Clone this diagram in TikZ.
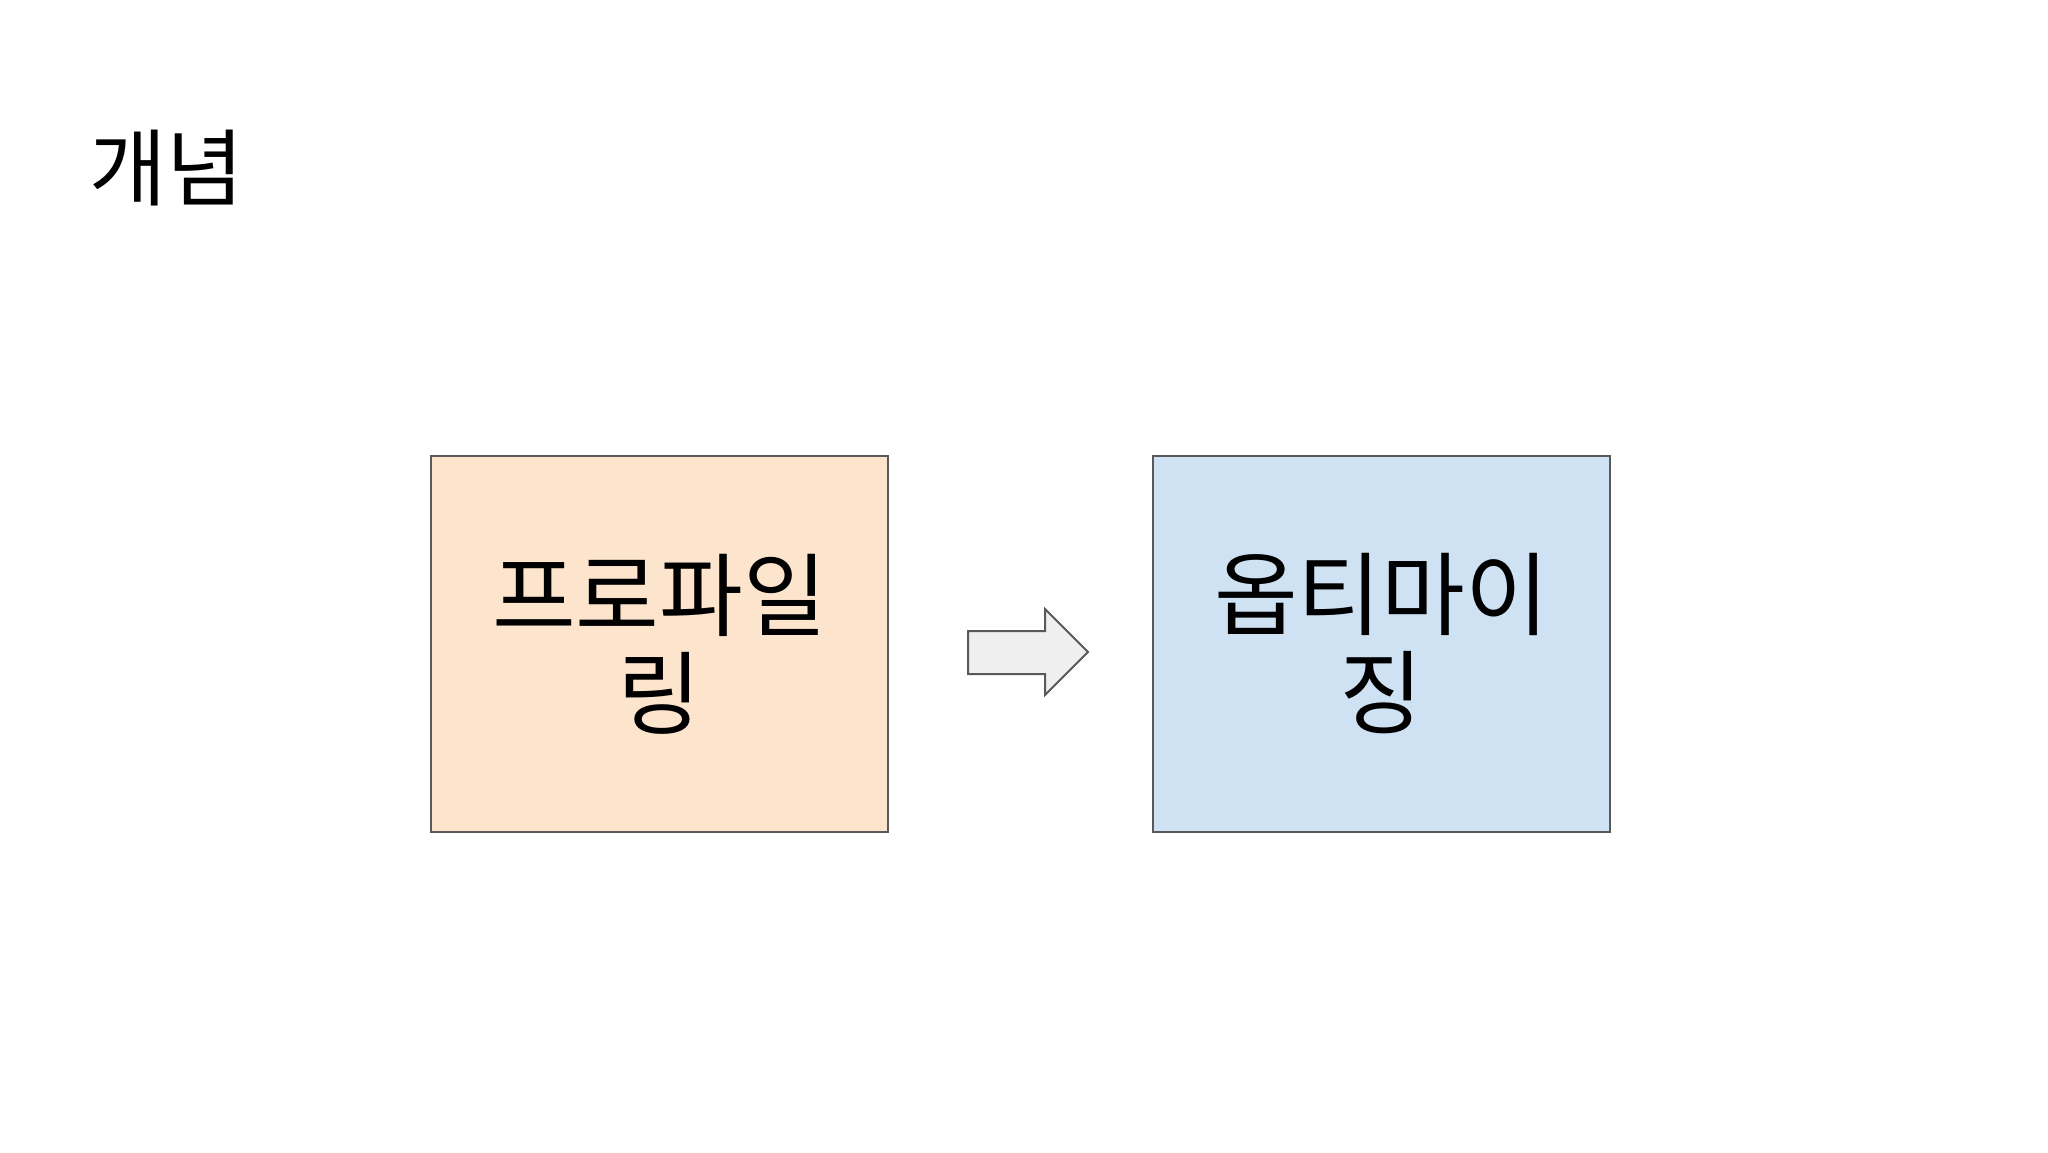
\documentclass[tikz,border=0pt]{standalone}
\usepackage{fontspec}
\setmainfont{Noto Sans CJK KR}
\definecolor{peach}{HTML}{FCE4CD}
\definecolor{lightblue}{HTML}{CFE2F3}
\definecolor{edgegrey}{HTML}{595959}
\definecolor{arrowfill}{HTML}{EFEFEF}
\tikzset{
  conceptbox/.style={draw=edgegrey, line width=1pt, minimum width=228.5pt, minimum height=188pt, inner sep=0pt, align=center, font=\fontsize{45.5pt}{49pt}\selectfont},
  titletext/.style={inner sep=0pt, anchor=center, font=\fontsize{42pt}{49pt}\selectfont},
  blockarrow/.style={draw=edgegrey, fill=arrowfill, line width=1pt, line join=miter}
}
\begin{document}
\begin{tikzpicture}[x=0.5pt,y=-0.5pt]
\fill[white] (0,0) rectangle (2048,1152);
\useasboundingbox (0,0) rectangle (2048,1152);
\node[titletext] (title) at (166.5,168) {개념};
\node[conceptbox, fill=peach] (profiling) at (659.5,644) {프로파일\\링};
\node[conceptbox, fill=lightblue] (optimizing) at (1381.5,644) {옵티마이\\징};
\draw[blockarrow] (968,631) -- (1045,631) -- (1045,609) -- (1088,652) -- (1045,695) -- (1045,674) -- (968,674) -- cycle;
\end{tikzpicture}
\end{document}
